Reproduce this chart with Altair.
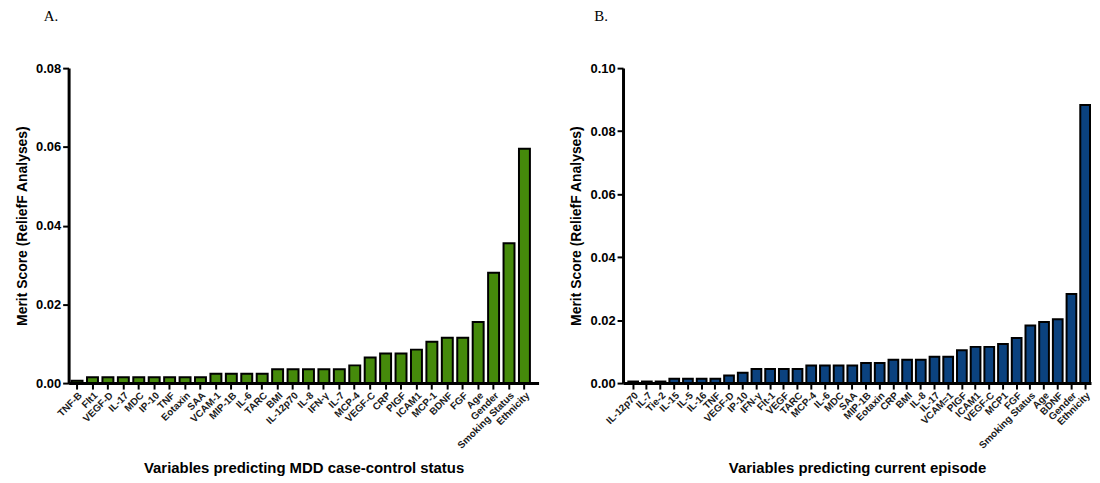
import altair as alt
import pandas as pd

# Panel A: variables predicting MDD case-control status
left_names = ["TNF-B", "Flt1", "VEGF-D", "IL-17", "MDC", "IP-10", "TNF", "Eotaxin", "SAA",
              "VCAM-1", "MIP-1B", "IL-6", "TARC", "BMI", "IL-12p70", "IL-8", "IFN-γ", "IL-7",
              "MCP-4", "VEGF-C", "CRP", "PIGF", "ICAM1", "MCP-1", "BDNF", "FGF", "Age",
              "Gender", "Smoking Status", "Ethnicity"]
left_values = [0.0006, 0.0015, 0.0015, 0.0015, 0.0015, 0.0015, 0.0015, 0.0015, 0.0015,
               0.0024, 0.0024, 0.0024, 0.0024, 0.0035, 0.0035, 0.0035, 0.0035, 0.0035,
               0.0045, 0.0065, 0.0075, 0.0075, 0.0085, 0.0105, 0.0115, 0.0115, 0.0155,
               0.0280, 0.0355, 0.0595]

# Panel B: variables predicting current episode
right_names = ["IL-12p70", "IL-7", "Tie-2", "IL-15", "IL-5", "IL-16", "TNF", "VEGF-D", "IP-10",
               "IFN-γ", "Flt-1", "VEGF", "TARC", "MCP-4", "IL-6", "MDC", "SAA", "MIP-1B",
               "Eotaxin", "CRP", "BMI", "IL-8", "IL-17", "VCAM=1", "PIGF", "ICAM1", "VEGF-C",
               "MCP1", "FGF", "Smoking Status", "Age", "BDNF", "Gender", "Ethnicity"]
right_values = [0.0005, 0.0005, 0.0005, 0.0014, 0.0014, 0.0014, 0.0014, 0.0024, 0.0033,
                0.0045, 0.0045, 0.0045, 0.0045, 0.0056, 0.0056, 0.0056, 0.0056, 0.0064,
                0.0064, 0.0074, 0.0074, 0.0074, 0.0084, 0.0084, 0.0104, 0.0115, 0.0115,
                0.0124, 0.0143, 0.0183, 0.0194, 0.0203, 0.0283, 0.0883]

left_ticks = [0.0, 0.02, 0.04, 0.06, 0.08]
right_ticks = [0.0, 0.02, 0.04, 0.06, 0.08, 0.10]

Y_TITLE = "Merit Score (ReliefF Analyses)"


def panel(names, values, color, ymax, ticks, letter, letter_dx, xtitle, width, po, align):
    df = pd.DataFrame({"name": names, "value": values})
    return (
        alt.Chart(
            df,
            title=alt.TitleParams(
                letter, anchor="start", frame="group", dx=letter_dx, offset=38,
                font="Liberation Serif", fontSize=15, fontWeight="normal", color="black",
            ),
        )
        .mark_bar(color=color, stroke="black", strokeWidth=2)
        .encode(
            x=alt.X(
                "name:N", sort=names, title=xtitle,
                scale=alt.Scale(paddingInner=0.29, paddingOuter=po, align=align),
                axis=alt.Axis(
                    labelAngle=-45, labelOverlap=False, labelFont="Liberation Sans",
                    labelFontWeight="bold", labelFontSize=10, labelColor="#1a1a1a",
                    labelPadding=1, titleFont="Liberation Sans",
                    titleFontSize=15, titleFontWeight="bold", titlePadding=10,
                    titleColor="black",
                ),
            ),
            y=alt.Y(
                "value:Q", title=Y_TITLE,
                scale=alt.Scale(domain=[0, ymax], nice=False),
                axis=alt.Axis(
                    values=ticks, format=".2f", labelFont="Liberation Sans",
                    labelFontWeight="bold", labelFontSize=13, labelColor="black",
                    labelPadding=2, titleFont="Liberation Sans", titleFontSize=14,
                    titleFontWeight="bold", titlePadding=6, titleColor="black",
                ),
            ),
        )
        .properties(width=width, height=317)
    )


left = panel(left_names, left_values, "#458A0B", 0.08, left_ticks, "A.", -25,
             "Variables predicting MDD case-control status", 473, 0.377, 0.256)
right = panel(right_names, right_values, "#0B427F", 0.10, right_ticks, "B.", -29,
              "Variables predicting current episode", 471, 0.229, 0.84)

chart = (
    alt.hconcat(left, right, spacing=31)
    .properties(padding={"left": 7, "top": 0, "right": 0, "bottom": 0})
    .configure_view(stroke=None)
    .configure_axis(
        grid=False, domainColor="black", domainWidth=3, tickColor="black",
        tickWidth=2, tickSize=6,
    )
)

chart.save("out.html", embed_options={"renderer": "svg", "actions": False})
